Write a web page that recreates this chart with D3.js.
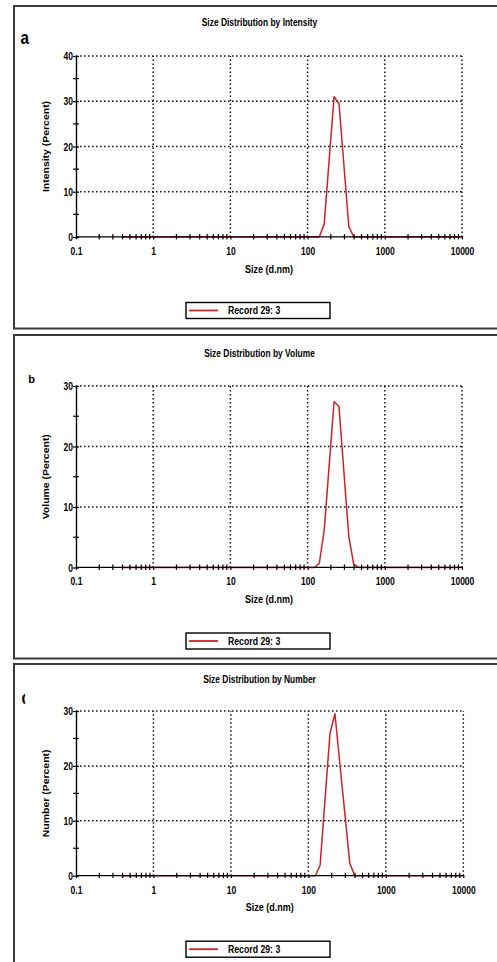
<!DOCTYPE html>
<html>
<head>
<meta charset="utf-8">
<script src="https://cdn.jsdelivr.net/npm/d3@7"></script>
<style>
  body { margin: 0; background: #fff; }
  svg { display: block; }
  text { font-family: "Liberation Sans", Arial, sans-serif; font-weight: bold; fill: #000; }
</style>
</head>
<body>
<svg id="chart" width="497" height="962"></svg>
<script>
// Size bins (d.nm) of the measured distribution, 0.4 nm to 10000 nm
const sizeBins     = [0.4, 122.4, 141.8, 164.2, 190.1, 220.2, 255.0, 295.3, 342.0, 396.1, 458.7, 10000];
// Percent per bin for each weighting
const intensityPct = [0, 0, 0,   2.9,  17.0, 31.0, 29.5, 15.9, 2.3, 0,   0, 0];
const volumePct    = [0, 0, 0.7, 6.2,  16.8, 27.4, 26.6, 15.8, 5.1, 0.5, 0, 0];
const numberPct    = [0, 0, 1.9, 14.0, 25.9, 29.5, 20.4, 11.4, 2.3, 0,   0, 0];

const xTicks      = [0.1, 1, 10, 100, 1000, 10000];
const xTickLabels = ["0.1", "1", "10", "100", "1000", "10000"];
const yTicksIntensity = [0, 10, 20, 30, 40];
const yTicksVolume    = [0, 10, 20, 30];
const yTicksNumber    = [0, 10, 20, 30];

const titles  = ["Size Distribution by Intensity", "Size Distribution by Volume", "Size Distribution by Number"];
const yTitles = ["Intensity (Percent)", "Volume (Percent)", "Number (Percent)"];
const letters = ["a", "b", "c"];
const xTitle  = "Size (d.nm)";
const legendLabel = "Record 29: 3";

const RED = "#cc2229";
const svg = d3.select("#chart");

// squeeze text horizontally (narrow bold face)
function squeeze(sel, k) {
  sel.each(function () {
    const w = this.getComputedTextLength();
    d3.select(this).attr("textLength", w * k).attr("lengthAdjust", "spacingAndGlyphs");
  });
}

const layouts = [
  { values: intensityPct, yTicks: yTicksIntensity, frameTop: 6,   frameBottom: 328.5, yTop: 56,  yZero: 237,   xLeft: 76, xRight: 462,
    titleY: 26,  letterX: 20.5, letterY: 43.5, letterSize: 19, letterK: 0.8, letterClip: null },
  { values: volumePct,    yTicks: yTicksVolume,    frameTop: 335, frameBottom: 658.5, yTop: 386, yZero: 567.5, xLeft: 76, xRight: 462,
    titleY: 357, letterX: 28.3, letterY: 382.7, letterSize: 11, letterK: 1.0, letterClip: null },
  { values: numberPct,    yTicks: yTicksNumber,    frameTop: 664, frameBottom: 980,   yTop: 711, yZero: 875.7, xLeft: 76, xRight: 463.3,
    titleY: 683, letterX: 21.5, letterY: 703.5, letterSize: 19, letterK: 0.8, letterClip: 25.2 }
];

const defs = svg.append("defs");

layouts.forEach((L, i) => {
  const g = svg.append("g");
  const yMax = L.yTicks[L.yTicks.length - 1];
  const x = d3.scaleLog().domain([0.1, 10000]).range([L.xLeft, L.xRight]);
  const y = d3.scaleLinear().domain([0, yMax]).range([L.yZero, L.yTop]);

  // panel frame
  g.append("rect")
    .attr("x", 14).attr("y", L.frameTop)
    .attr("width", 500).attr("height", L.frameBottom - L.frameTop)
    .attr("fill", "none").attr("stroke", "#3a3a3a").attr("stroke-width", 2);

  // title
  g.append("text").attr("x", 259.5).attr("y", L.titleY)
    .attr("text-anchor", "middle").attr("font-size", 11)
    .text(titles[i]).call(squeeze, 0.765);

  // panel letter
  const lt = g.append("text").attr("x", L.letterX).attr("y", L.letterY)
    .attr("font-size", L.letterSize).text(letters[i]).call(squeeze, L.letterK);
  if (L.letterClip) {
    const id = "clip" + i;
    defs.append("clipPath").attr("id", id).append("rect")
      .attr("x", 0).attr("y", L.letterY - 30).attr("width", L.letterClip).attr("height", 40);
    lt.attr("clip-path", `url(#${id})`);
  }

  // dotted grid
  const grid = g.append("g").attr("stroke", "#111").attr("stroke-width", 1.5)
    .attr("stroke-dasharray", "1.5,2.5");
  grid.selectAll("line.h").data(L.yTicks.filter(d => d > 0)).join("line")
    .attr("x1", L.xLeft).attr("x2", L.xRight)
    .attr("y1", d => y(d)).attr("y2", d => y(d));
  grid.selectAll("line.v").data(xTicks.slice(1)).join("line")
    .attr("x1", d => x(d)).attr("x2", d => x(d))
    .attr("y1", L.yZero).attr("y2", L.yTop);

  // distribution curve
  const pts = sizeBins.map((s, k) => ({ s, v: L.values[k] }));
  g.append("path").datum(pts)
    .attr("fill", "none").attr("stroke", RED).attr("stroke-width", 1.5)
    .attr("stroke-linejoin", "round")
    .attr("d", d3.line().x(d => x(d.s)).y(d => y(d.v)));

  // x axis
  const xAxis = g.append("g").attr("transform", `translate(0,${L.yZero - 0.6})`)
    .call(d3.axisBottom(x).tickValues(xTicks)
      .tickFormat((d, k) => xTickLabels[k]).tickSizeInner(3).tickSizeOuter(0));
  xAxis.select(".domain").attr("stroke", "#000").attr("stroke-width", 1.4);
  xAxis.selectAll(".tick line").attr("stroke", "#000").attr("stroke-width", 1.2);
  xAxis.selectAll(".tick text")
    .attr("y", 18.6).attr("dy", 0)
    .attr("font-size", 10).attr("font-family", null).attr("fill", "#000")
    .call(squeeze, 0.85);
  xAxis.attr("font-family", null).attr("font-size", null);

  // log minor ticks
  const minor = [];
  for (let dec = 0.1; dec < 10000; dec *= 10) {
    for (let m = 2; m <= 9; m++) minor.push(+(dec * m).toPrecision(3));
  }
  g.append("g").selectAll("line").data(minor).join("line")
    .attr("x1", d => x(d)).attr("x2", d => x(d))
    .attr("y1", L.yZero - 3).attr("y2", L.yZero + 2.4)
    .attr("stroke", "#000").attr("stroke-width", 1.2);

  // y axis
  const yAxis = g.append("g").attr("transform", `translate(${L.xLeft},0)`)
    .call(d3.axisLeft(y).tickValues(L.yTicks).tickSizeInner(3).tickSizeOuter(0));
  yAxis.select(".domain").attr("stroke", "#000").attr("stroke-width", 1.4);
  yAxis.selectAll(".tick line").attr("stroke", "#000").attr("stroke-width", 1.2).attr("x2", -3).attr("x1", 3);
  yAxis.selectAll(".tick text")
    .attr("x", -3).attr("dy", "0.36em")
    .attr("font-size", 10).attr("font-family", null).attr("fill", "#000")
    .call(squeeze, 0.85);
  yAxis.attr("font-family", null).attr("font-size", null);

  // y half-step minor ticks
  const yMinor = d3.range(5, yMax, 10);
  g.append("g").selectAll("line").data(yMinor).join("line")
    .attr("x1", L.xLeft - 3).attr("x2", L.xLeft + 3)
    .attr("y1", d => y(d)).attr("y2", d => y(d))
    .attr("stroke", "#000").attr("stroke-width", 1.2);

  // axis titles
  g.append("text")
    .attr("transform", `translate(48.5,${(L.yTop + L.yZero) / 2}) rotate(-90)`)
    .attr("text-anchor", "middle").attr("font-size", 9.5)
    .text(yTitles[i]).call(squeeze, 1.1);
  g.append("text").attr("x", (L.xLeft + L.xRight) / 2).attr("y", L.yZero + 35.5)
    .attr("text-anchor", "middle").attr("font-size", 10)
    .text(xTitle).call(squeeze, 0.9);

  // legend
  const ly = L.yZero + 65.5;
  const lg = g.append("g");
  lg.append("rect").attr("x", 186).attr("y", ly).attr("width", 144).attr("height", 16)
    .attr("fill", "#fff").attr("stroke", "#000").attr("stroke-width", 1.4);
  lg.append("line").attr("x1", 189).attr("x2", 218).attr("y1", ly + 8).attr("y2", ly + 8)
    .attr("stroke", RED).attr("stroke-width", 1.8);
  lg.append("text").attr("x", 228).attr("y", ly + 11.8).attr("font-size", 10)
    .text(legendLabel).call(squeeze, 0.87);
});
</script>
</body>
</html>
